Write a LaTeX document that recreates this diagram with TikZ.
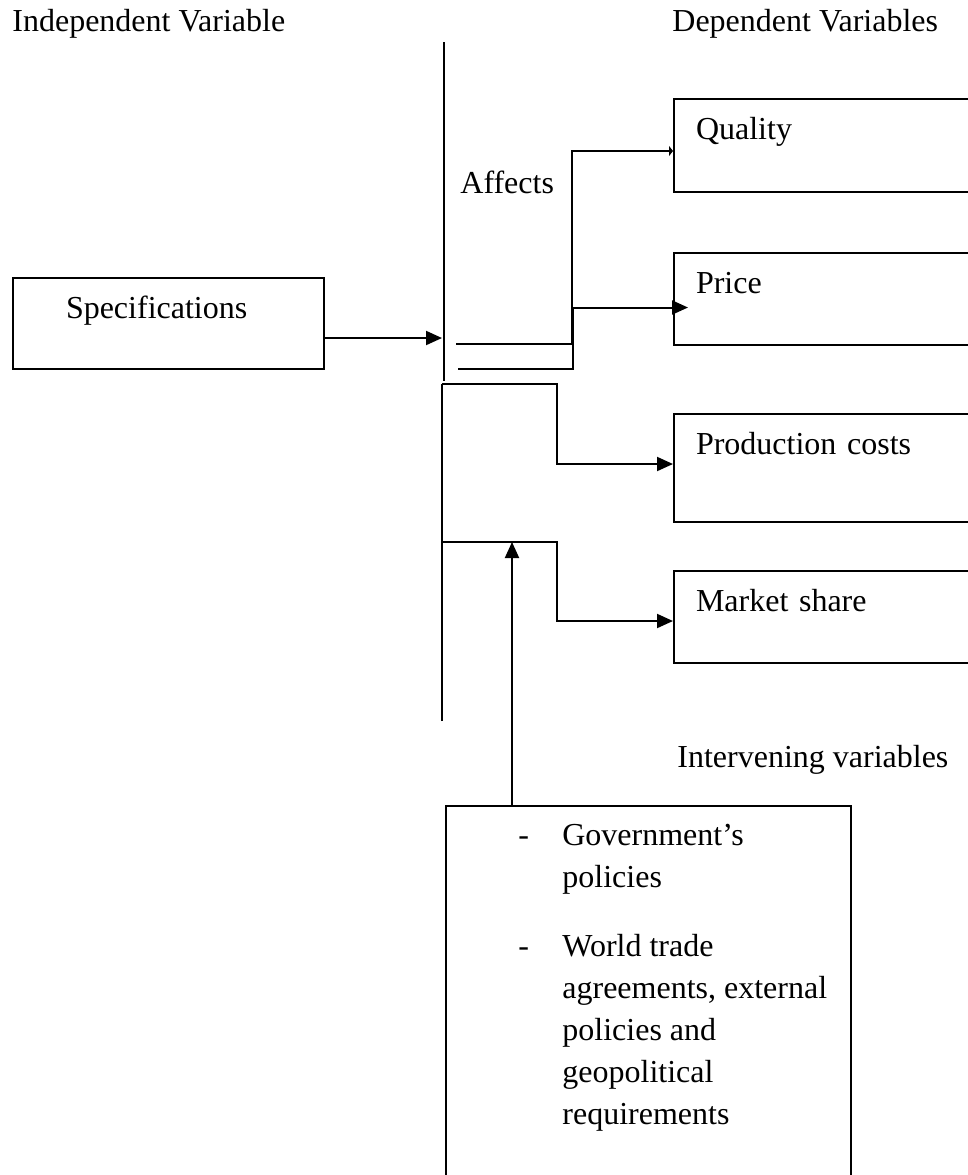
\documentclass[tikz,border=0pt]{standalone}
\usepackage{fontspec}
\setmainfont{Liberation Serif}
\usetikzlibrary{arrows.meta}

\tikzset{
  box/.style={draw, line width=1pt, anchor=north west, inner xsep=11pt, inner ysep=0pt,
    text height=20pt, text depth=#1, text width=148pt, align=left},
  lbl/.style={anchor=base west, inner sep=0pt},
  link/.style={line width=1pt},
  arr/.style={line width=1pt, -{Triangle[length=8pt,width=7pt]}}
}

\begin{document}
\begin{tikzpicture}[x=0.5pt, y=-0.5pt, font=\fontsize{16pt}{21pt}\selectfont]
    \path[use as bounding box, clip] (0,0) rectangle (968,1175);

    \node[lbl] (indep) at (12,31) {Independent Variable};
    \node[lbl] (dep) at (672,31) {Dependent Variables};
    \node[lbl] (affects) at (460,193) {Affects};
    \node[lbl] (intervlabel) at (677,767) {Intervening variables};

    \node[box=25.5pt, inner xsep=26.5pt, text width=102.5pt] (spec) at (12,277) {Specifications};
    \node[box=26.5pt] (quality) at (673,98) {Quality};
    \node[box=26pt] (price) at (673,252) {Price};
    \node[box=34pt] (costs) at (673,413) {Production costs};
    \node[box=26pt] (share) at (673,570) {Market share};

    \node[draw, line width=1pt, anchor=north west, minimum width=202.5pt,
      minimum height=250pt] (interv) at (445,805) {};
    \node[lbl] (intervtext) at (518,845) {\begin{tabular}[t]{@{}p{22pt}@{}l@{}}
      - & Government's\\
        & policies\\[13.5pt]
      - & World trade\\
        & agreements, external\\
        & policies and\\
        & geopolitical\\
        & requirements
    \end{tabular}};

    \coordinate (bartop) at (444,42);
    \coordinate (barend) at (444,381);
    \coordinate (barsplit) at (442,384);
    \coordinate (barfoot) at (442,721);
    \coordinate (specin) at (442,338);
    \coordinate (qstart) at (456,344);
    \coordinate (pstart) at (458,369);
    \coordinate (sbranch) at (442,542);
    \coordinate (govin) at (512,542);

    \draw[link] (bartop) -- (barend);
    \draw[link] (barfoot) -- (barsplit);
    \draw[arr] (spec.east |- specin) -- (specin);
    \draw[link, -{Triangle[length=2pt,width=5pt]}] (qstart) -- ++(116,0) |- ([yshift=-2.75pt]quality.west);
    \draw[arr] (pstart) -- ++(115,0) |- ([xshift=7.5pt,yshift=-4.25pt]price.west);
    \draw[arr] (barsplit) -- ++(115,0) |- ([yshift=2pt]costs.west);
    \draw[arr] (sbranch) -- ++(115,0) |- ([yshift=-2pt]share.west);
    \draw[arr] ([xshift=33.5pt]interv.north west) -- (govin);
\end{tikzpicture}
\end{document}
